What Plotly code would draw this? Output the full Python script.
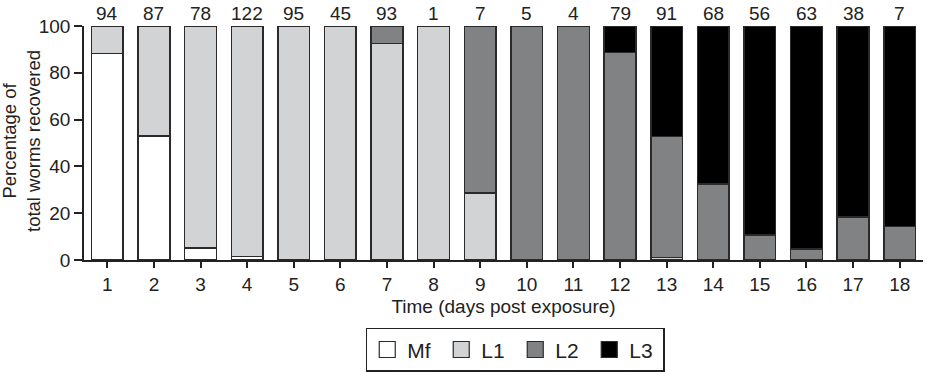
import plotly.graph_objects as go

days = list(range(1, 19))
counts = [94, 87, 78, 122, 95, 45, 93, 1, 7, 5, 4, 79, 91, 68, 56, 63, 38, 7]
mf = [88.3, 52.9, 5.1, 1.6, None, None, None, None, None, None, None, None, None, None, None, None, None, None]
l1 = [11.7, 47.1, 94.9, 98.4, 100, 100, 92.5, 100, 28.6, None, None, None, 1.1, None, None, None, None, None]
l2 = [None, None, None, None, None, None, 7.5, None, 71.4, 100, 100, 88.6, 51.6, 32.4, 10.7, 4.8, 18.4, 14.3]
l3 = [None, None, None, None, None, None, None, None, None, None, None, 11.4, 47.3, 67.6, 89.3, 95.2, 81.6, 85.7]

stages = ["Mf", "L1", "L2", "L3"]
colors = ["#ffffff", "#d1d3d4", "#808284", "#000000"]
series = [mf, l1, l2, l3]

FONT = "Liberation Sans, Arial, Helvetica, sans-serif"
EDGE = "#2a2a2a"

fig = go.Figure()
for name, vals, col in zip(stages, series, colors):
    fig.add_trace(go.Bar(
        x=days, y=vals, name=name, width=0.68,
        marker=dict(color=col, line=dict(color=EDGE, width=1.5)),
        showlegend=False,
    ))
# legend entries
for name, col in zip(stages, colors):
    fig.add_trace(go.Scatter(
        x=[None], y=[None], mode="markers", name=name,
        marker=dict(symbol="square", size=16, color=col, line=dict(color=EDGE, width=1.2)),
    ))

for d, c in zip(days, counts):
    fig.add_annotation(x=d, y=100, xref="x", yref="y", text=str(c), showarrow=False,
                       yanchor="bottom", yshift=0, font=dict(size=19, color="#222", family=FONT))

fig.add_annotation(x=0, y=0.5, xref="paper", yref="paper", xanchor="center", yanchor="middle",
                   xshift=-63, yshift=2, textangle=-90, showarrow=False,
                   text="Percentage of<br>total worms recovered",
                   font=dict(size=18.5, color="#222", family=FONT))

fig.update_layout(
    width=939, height=372,
    margin=dict(l=84, r=16, t=26, b=112, autoexpand=False),
    barmode="stack",
    plot_bgcolor="white", paper_bgcolor="white",
    font=dict(family=FONT, size=19, color="#222"),
    xaxis=dict(
        range=[0.5, 18.5], tickmode="array", tickvals=days, ticktext=[str(d) for d in days],
        showline=True, linecolor="#222", linewidth=1.5, ticks="outside", ticklen=6,
        tickwidth=1.5, tickcolor="#222", showgrid=False, zeroline=False,
        tickfont=dict(size=19, family=FONT, color="#222"),
        title=dict(text="Time (days post exposure)", font=dict(size=19, family=FONT, color="#222"), standoff=6),
    ),
    yaxis=dict(
        range=[0, 100], tickvals=[0, 20, 40, 60, 80, 100],
        showline=True, linecolor="#222", linewidth=1.5, ticks="outside", ticklen=8,
        tickwidth=1.5, tickcolor="#222", showgrid=False, zeroline=False,
        tickfont=dict(size=19, family=FONT, color="#222"),
    ),
    legend=dict(
        orientation="h", x=0.514, xanchor="center", y=-0.29, yanchor="top",
        traceorder="normal",
        bordercolor="#222", borderwidth=1.5, entrywidth=29,
        font=dict(size=21, family=FONT, color="#222"),
    ),
)

fig.write_html("out.html")
